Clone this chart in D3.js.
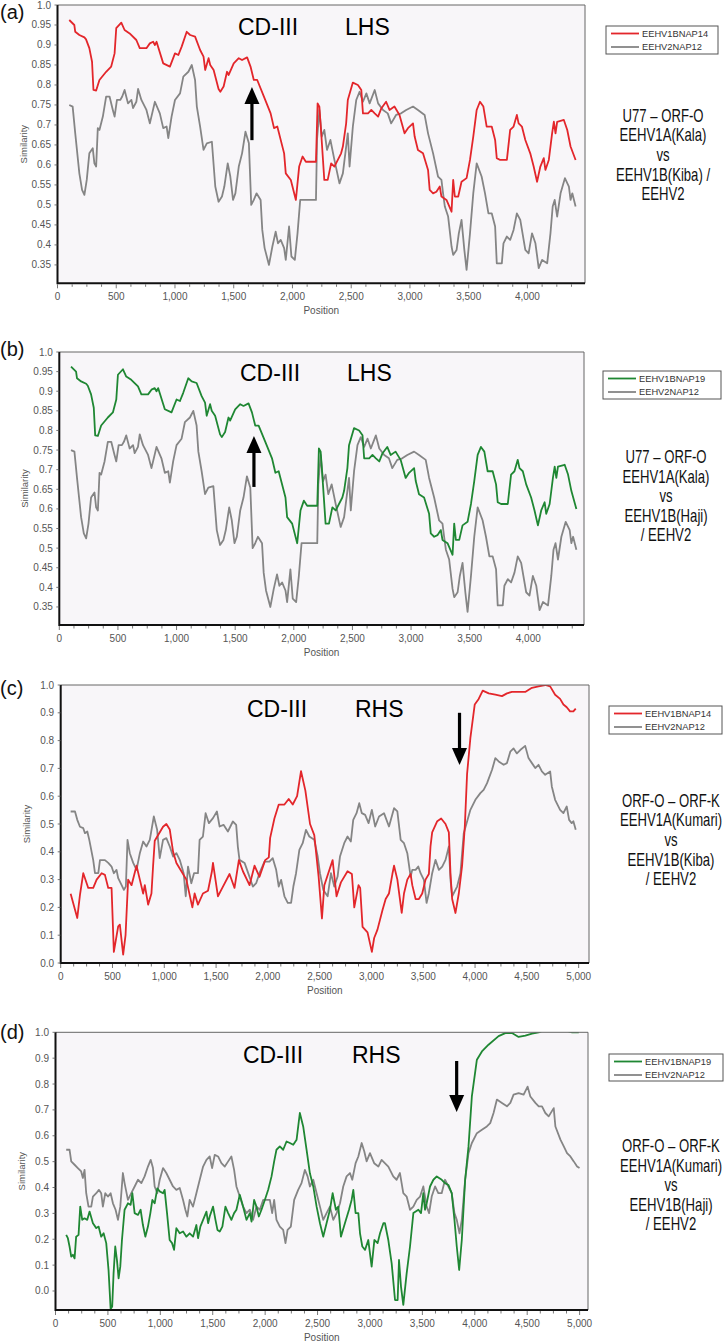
<!DOCTYPE html>
<html><head><meta charset="utf-8">
<script src="https://cdn.jsdelivr.net/npm/d3@7"></script>
<style>body{margin:0;background:#fff}svg{display:block;font-family:"Liberation Sans",Arial,Helvetica,sans-serif}</style>
</head><body><svg id="chart" width="725" height="1343"></svg>
<script>
// ---------------- DATA ----------------
const yTicksLHS = [1.0,0.95,0.9,0.85,0.8,0.75,0.7,0.65,0.6,0.55,0.5,0.45,0.4,0.35];
const yTicksRHS = [1.0,0.9,0.8,0.7,0.6,0.5,0.4,0.3,0.2,0.1,0.0];
const xTicksLHS = [0,500,1000,1500,2000,2500,3000,3500,4000];
const xTicksRHS = [0,500,1000,1500,2000,2500,3000,3500,4000,4500,5000];

const aRed = [[100,0.9625],[143,0.95],[151,0.933],[186,0.925],[229,0.919],[243,0.914],[271,0.892],[294,0.858],[306,0.7875],[329,0.786],[357,0.8125],[414,0.833],[457,0.846],[486,0.879],[500,0.942],[543,0.956],[571,0.9375],[614,0.929],[671,0.9125],[700,0.892],[757,0.892],[786,0.904],[814,0.908],[829,0.9],[843,0.908],[900,0.854],[957,0.846],[1000,0.879],[1029,0.875],[1057,0.896],[1100,0.933],[1129,0.925],[1171,0.921],[1214,0.8875],[1243,0.871],[1257,0.8375],[1286,0.867],[1300,0.85],[1329,0.8375],[1371,0.79],[1386,0.783],[1414,0.796],[1443,0.833],[1457,0.825],[1500,0.854],[1543,0.867],[1571,0.8625],[1614,0.869],[1643,0.846],[1671,0.8125],[1700,0.8125],[1757,0.771],[1814,0.729],[1843,0.692],[1871,0.696],[1929,0.629],[1943,0.579],[1986,0.5625],[2029,0.5125],[2057,0.596],[2086,0.621],[2114,0.608],[2200,0.608],[2214,0.754],[2229,0.746],[2243,0.6875],[2271,0.5625],[2300,0.5625],[2329,0.604],[2357,0.596],[2414,0.629],[2429,0.646],[2457,0.704],[2471,0.7625],[2514,0.806],[2557,0.8],[2586,0.7875],[2600,0.729],[2643,0.729],[2671,0.7375],[2700,0.729],[2729,0.721],[2757,0.742],[2797,0.758],[2826,0.7375],[2868,0.746],[2911,0.725],[2954,0.679],[2983,0.692],[3026,0.704],[3040,0.671],[3068,0.6375],[3111,0.629],[3154,0.5875],[3168,0.5375],[3197,0.529],[3225,0.533],[3254,0.546],[3268,0.521],[3311,0.5125],[3354,0.483],[3368,0.5625],[3382,0.521],[3411,0.521],[3439,0.558],[3482,0.567],[3511,0.6125],[3539,0.671],[3568,0.7375],[3596,0.758],[3625,0.746],[3653,0.696],[3696,0.696],[3725,0.6625],[3739,0.617],[3768,0.6125],[3825,0.6125],[3853,0.6875],[3882,0.696],[3910,0.725],[3925,0.704],[3953,0.696],[3982,0.6625],[4024,0.629],[4053,0.596],[4082,0.558],[4110,0.596],[4139,0.617],[4153,0.5875],[4182,0.6125],[4210,0.679],[4225,0.708],[4239,0.679],[4253,0.708],[4310,0.7125],[4339,0.6875],[4367,0.646],[4410,0.6125]];

const aGray = [[100,0.75],[129,0.746],[151,0.679],[186,0.579],[209,0.5375],[229,0.525],[249,0.5625],[271,0.629],[300,0.642],[314,0.604],[329,0.596],[343,0.692],[357,0.6875],[386,0.721],[414,0.771],[443,0.771],[471,0.7375],[486,0.721],[506,0.7625],[534,0.7625],[551,0.771],[571,0.7875],[600,0.754],[629,0.7625],[643,0.742],[671,0.758],[686,0.79],[714,0.7625],[757,0.7375],[786,0.704],[829,0.758],[871,0.729],[900,0.692],[929,0.696],[943,0.667],[971,0.721],[1000,0.7625],[1043,0.779],[1071,0.821],[1114,0.833],[1143,0.85],[1171,0.8125],[1186,0.746],[1214,0.696],[1243,0.6375],[1271,0.654],[1314,0.658],[1343,0.546],[1371,0.508],[1400,0.521],[1420,0.546],[1449,0.604],[1471,0.571],[1494,0.5125],[1514,0.529],[1543,0.596],[1571,0.629],[1600,0.683],[1629,0.654],[1649,0.5],[1671,0.5125],[1694,0.529],[1729,0.5125],[1743,0.4375],[1763,0.392],[1800,0.35],[1829,0.396],[1857,0.433],[1877,0.404],[1900,0.4125],[1929,0.392],[1943,0.3625],[1971,0.446],[1991,0.371],[2020,0.3625],[2043,0.429],[2066,0.5125],[2200,0.5125],[2209,0.6625],[2229,0.7375],[2249,0.671],[2271,0.6875],[2294,0.6375],[2323,0.6625],[2357,0.6125],[2400,0.554],[2429,0.579],[2471,0.679],[2486,0.596],[2514,0.696],[2543,0.7625],[2571,0.783],[2600,0.758],[2629,0.779],[2657,0.754],[2700,0.7875],[2729,0.754],[2771,0.7375],[2811,0.729],[2840,0.704],[2882,0.725],[2925,0.729],[2968,0.7375],[3026,0.746],[3068,0.7375],[3125,0.725],[3154,0.679],[3197,0.629],[3239,0.571],[3268,0.5625],[3282,0.529],[3297,0.496],[3325,0.471],[3354,0.396],[3368,0.375],[3397,0.3875],[3416,0.429],[3439,0.4625],[3463,0.3875],[3482,0.3375],[3511,0.429],[3539,0.529],[3568,0.604],[3610,0.571],[3639,0.529],[3668,0.479],[3696,0.479],[3725,0.446],[3739,0.354],[3782,0.354],[3796,0.404],[3825,0.421],[3853,0.4125],[3882,0.4375],[3910,0.479],[3939,0.4625],[3982,0.3875],[4010,0.379],[4039,0.429],[4068,0.404],[4096,0.342],[4125,0.3625],[4168,0.354],[4196,0.429],[4215,0.496],[4232,0.5125],[4253,0.471],[4282,0.529],[4319,0.567],[4353,0.546],[4367,0.5125],[4382,0.529],[4410,0.496]];

const bGreen = [[100,0.9625],[143,0.95],[151,0.933],[186,0.925],[229,0.919],[243,0.914],[271,0.892],[294,0.858],[306,0.7875],[329,0.786],[357,0.8125],[414,0.833],[457,0.846],[486,0.879],[500,0.942],[543,0.956],[571,0.9375],[614,0.929],[671,0.9125],[700,0.892],[757,0.892],[786,0.904],[814,0.908],[829,0.9],[843,0.908],[900,0.854],[957,0.846],[1000,0.879],[1029,0.875],[1057,0.896],[1100,0.933],[1129,0.925],[1171,0.921],[1214,0.8875],[1243,0.871],[1257,0.8375],[1286,0.867],[1300,0.85],[1329,0.8375],[1371,0.79],[1386,0.783],[1414,0.796],[1443,0.833],[1457,0.825],[1500,0.854],[1543,0.867],[1571,0.8625],[1614,0.869],[1643,0.846],[1671,0.8125],[1700,0.8125],[1757,0.771],[1814,0.729],[1843,0.692],[1871,0.696],[1929,0.629],[1943,0.579],[1986,0.5625],[2029,0.5125],[2057,0.596],[2086,0.621],[2114,0.608],[2200,0.608],[2214,0.754],[2229,0.746],[2243,0.6875],[2271,0.5625],[2300,0.5625],[2329,0.604],[2357,0.596],[2414,0.629],[2429,0.646],[2457,0.704],[2471,0.7625],[2514,0.806],[2557,0.8],[2586,0.7875],[2600,0.729],[2643,0.729],[2671,0.7375],[2700,0.729],[2729,0.721],[2757,0.742],[2797,0.758],[2826,0.7375],[2868,0.746],[2911,0.725],[2954,0.679],[2983,0.692],[3026,0.704],[3040,0.671],[3068,0.6375],[3111,0.629],[3154,0.5875],[3168,0.5375],[3197,0.529],[3225,0.533],[3254,0.546],[3268,0.521],[3311,0.5125],[3354,0.483],[3368,0.5625],[3382,0.521],[3411,0.521],[3439,0.558],[3482,0.567],[3511,0.6125],[3539,0.671],[3568,0.7375],[3596,0.758],[3625,0.746],[3653,0.696],[3696,0.696],[3725,0.6625],[3739,0.617],[3768,0.6125],[3825,0.6125],[3853,0.6875],[3882,0.696],[3910,0.725],[3925,0.704],[3953,0.696],[3982,0.6625],[4024,0.629],[4053,0.596],[4082,0.558],[4110,0.596],[4139,0.617],[4153,0.5875],[4182,0.6125],[4210,0.679],[4225,0.708],[4239,0.679],[4253,0.708],[4310,0.7125],[4339,0.6875],[4367,0.646],[4410,0.60]];
const bGray = aGray;

const cRed = [[96,0.249],[160,0.162],[186,0.245],[218,0.323],[266,0.27],[314,0.27],[347,0.3],[395,0.323],[427,0.317],[459,0.27],[491,0.27],[513,0.04],[555,0.132],[571,0.138],[603,0.03],[626,0.1],[651,0.3],[684,0.28],[732,0.35],[764,0.3],[796,0.25],[812,0.28],[844,0.21],[876,0.25],[892,0.35],[908,0.44],[988,0.49],[1020,0.5],[1053,0.48],[1085,0.4],[1117,0.36],[1165,0.33],[1213,0.3],[1271,0.2],[1293,0.25],[1325,0.21],[1373,0.25],[1422,0.26],[1460,0.33],[1470,0.36],[1518,0.24],[1560,0.27],[1630,0.32],[1678,0.27],[1720,0.37],[1759,0.33],[1823,0.28],[1871,0.35],[1919,0.31],[1974,0.37],[2009,0.38],[2022,0.45],[2063,0.52],[2105,0.57],[2160,0.57],[2201,0.59],[2240,0.57],[2282,0.6],[2320,0.69],[2362,0.62],[2407,0.5],[2448,0.46],[2490,0.31],[2522,0.16],[2545,0.28],[2625,0.37],[2663,0.24],[2705,0.29],[2769,0.33],[2811,0.32],[2834,0.2],[2875,0.28],[2891,0.27],[2914,0.13],[2962,0.11],[3004,0.04],[3026,0.09],[3058,0.12],[3106,0.19],[3137,0.23],[3169,0.25],[3202,0.32],[3218,0.35],[3250,0.3],[3292,0.18],[3314,0.25],[3346,0.3],[3378,0.32],[3394,0.28],[3426,0.23],[3458,0.23],[3490,0.25],[3522,0.3],[3554,0.32],[3570,0.42],[3586,0.47],[3635,0.51],[3673,0.52],[3715,0.5],[3747,0.47],[3763,0.32],[3779,0.23],[3811,0.18],[3843,0.25],[3875,0.35],[3901,0.49],[3923,0.68],[3955,0.81],[3997,0.93],[4035,0.95],[4074,0.98],[4132,0.97],[4196,0.965],[4260,0.96],[4308,0.97],[4356,0.975],[4420,0.975],[4484,0.975],[4549,0.99],[4613,0.995],[4677,1.0],[4725,0.995],[4773,0.965],[4821,0.95],[4853,0.93],[4885,0.92],[4917,0.905],[4949,0.905],[4972,0.915]];

const cGray = [[96,0.545],[138,0.545],[160,0.515],[186,0.49],[218,0.485],[234,0.467],[257,0.473],[276,0.443],[314,0.37],[331,0.323],[363,0.323],[379,0.37],[427,0.37],[459,0.36],[491,0.347],[513,0.323],[539,0.335],[555,0.305],[587,0.281],[610,0.263],[629,0.275],[645,0.443],[667,0.395],[700,0.36],[732,0.335],[764,0.395],[796,0.437],[828,0.419],[860,0.443],[899,0.527],[931,0.479],[956,0.377],[988,0.443],[1020,0.449],[1053,0.419],[1085,0.383],[1117,0.395],[1149,0.371],[1187,0.323],[1207,0.24],[1229,0.347],[1261,0.287],[1287,0.323],[1325,0.323],[1341,0.443],[1373,0.455],[1399,0.539],[1431,0.503],[1470,0.521],[1508,0.545],[1534,0.491],[1572,0.497],[1614,0.473],[1662,0.509],[1694,0.497],[1710,0.419],[1726,0.371],[1775,0.36],[1816,0.317],[1855,0.275],[1887,0.287],[1919,0.323],[1967,0.365],[2015,0.365],[2047,0.377],[2080,0.335],[2105,0.275],[2128,0.299],[2160,0.24],[2192,0.216],[2224,0.216],[2246,0.275],[2272,0.323],[2304,0.407],[2336,0.431],[2368,0.479],[2400,0.455],[2448,0.443],[2481,0.383],[2503,0.323],[2535,0.263],[2577,0.24],[2609,0.323],[2641,0.275],[2673,0.311],[2696,0.383],[2737,0.431],[2769,0.455],[2801,0.437],[2824,0.515],[2856,0.539],[2882,0.575],[2907,0.539],[2939,0.533],[2972,0.503],[3004,0.551],[3036,0.491],[3073,0.527],[3121,0.539],[3169,0.491],[3218,0.557],[3250,0.545],[3282,0.443],[3314,0.431],[3346,0.395],[3378,0.311],[3394,0.335],[3426,0.335],[3452,0.347],[3474,0.323],[3506,0.299],[3532,0.216],[3554,0.251],[3586,0.323],[3618,0.371],[3651,0.335],[3683,0.347],[3715,0.371],[3747,0.419],[3763,0.299],[3779,0.24],[3827,0.275],[3859,0.323],[3891,0.467],[3923,0.509],[3955,0.551],[4003,0.587],[4051,0.611],[4083,0.623],[4116,0.647],[4164,0.695],[4196,0.737],[4228,0.725],[4276,0.713],[4308,0.719],[4340,0.76],[4372,0.772],[4404,0.754],[4436,0.766],[4484,0.781],[4516,0.737],[4549,0.719],[4581,0.701],[4613,0.713],[4645,0.689],[4677,0.677],[4725,0.689],[4741,0.635],[4773,0.587],[4821,0.551],[4853,0.539],[4885,0.563],[4908,0.515],[4933,0.503],[4949,0.51],[4972,0.479]];

const dGreen = [[102,0.217],[118,0.204],[134,0.172],[150,0.133],[166,0.14],[182,0.126],[197,0.21],[220,0.217],[236,0.326],[255,0.275],[277,0.281],[303,0.275],[325,0.307],[357,0.262],[389,0.243],[411,0.249],[436,0.21],[459,0.223],[484,0.185],[506,0.081],[526,-0.07],[541,-0.06],[554,0.068],[570,0.172],[586,0.12],[602,0.049],[618,0.094],[634,0.197],[659,0.314],[691,0.339],[717,0.333],[733,0.378],[755,0.301],[787,0.294],[812,0.314],[834,0.255],[857,0.21],[882,0.249],[905,0.301],[924,0.352],[946,0.339],[971,0.397],[994,0.385],[1026,0.378],[1041,0.391],[1064,0.301],[1089,0.197],[1112,0.185],[1131,0.159],[1153,0.243],[1185,0.223],[1217,0.23],[1249,0.21],[1280,0.223],[1312,0.21],[1344,0.255],[1360,0.204],[1382,0.249],[1408,0.275],[1440,0.307],[1456,0.262],[1471,0.288],[1503,0.326],[1526,0.275],[1545,0.236],[1567,0.23],[1592,0.249],[1621,0.326],[1647,0.301],[1678,0.275],[1704,0.301],[1726,0.314],[1758,0.372],[1790,0.326],[1822,0.275],[1854,0.301],[1870,0.268],[1895,0.352],[1917,0.326],[1940,0.288],[1965,0.314],[1997,0.352],[2029,0.391],[2061,0.443],[2086,0.501],[2108,0.546],[2140,0.559],[2172,0.546],[2204,0.578],[2236,0.572],[2268,0.565],[2300,0.585],[2331,0.688],[2363,0.636],[2395,0.546],[2427,0.455],[2459,0.404],[2491,0.326],[2523,0.262],[2554,0.21],[2586,0.262],[2618,0.314],[2644,0.378],[2675,0.314],[2698,0.326],[2723,0.21],[2761,0.262],[2800,0.314],[2825,0.352],[2841,0.391],[2863,0.301],[2889,0.301],[2905,0.223],[2927,0.172],[2953,0.159],[2984,0.197],[3016,0.094],[3042,0.197],[3073,0.185],[3096,0.223],[3128,0.262],[3143,0.262],[3175,0.197],[3207,0.107],[3239,-0.035],[3264,-0.035],[3277,0.12],[3296,0.017],[3318,-0.054],[3350,0.068],[3382,0.172],[3414,0.301],[3462,0.314],[3487,0.301],[3509,0.378],[3525,0.314],[3541,0.339],[3573,0.404],[3605,0.43],[3637,0.443],[3685,0.43],[3716,0.417],[3748,0.41],[3780,0.378],[3806,0.275],[3828,0.172],[3851,0.081],[3876,0.197],[3908,0.43],[3940,0.559],[3972,0.752],[4020,0.894],[4068,0.926],[4131,0.952],[4227,0.985],[4291,0.997],[4355,0.997],[4418,0.982],[4482,0.987],[4546,0.995],[4610,1.0],[4700,1.015],[4800,1.015],[4928,1.0],[4992,1.0]];

const dGray = [[102,0.546],[134,0.546],[150,0.501],[182,0.488],[213,0.475],[245,0.462],[261,0.437],[277,0.468],[293,0.378],[315,0.326],[341,0.326],[357,0.365],[389,0.378],[414,0.391],[436,0.378],[452,0.326],[475,0.378],[500,0.365],[526,0.378],[548,0.339],[573,0.314],[596,0.275],[618,0.326],[643,0.456],[659,0.417],[691,0.352],[723,0.378],[755,0.404],[787,0.43],[819,0.417],[850,0.443],[882,0.481],[908,0.507],[930,0.475],[946,0.404],[971,0.378],[994,0.43],[1026,0.475],[1057,0.456],[1089,0.43],[1121,0.404],[1153,0.391],[1185,0.398],[1217,0.352],[1239,0.314],[1258,0.288],[1280,0.352],[1312,0.326],[1344,0.378],[1376,0.43],[1408,0.481],[1440,0.507],[1471,0.52],[1494,0.475],[1519,0.526],[1551,0.52],[1583,0.494],[1615,0.481],[1647,0.501],[1678,0.52],[1704,0.468],[1726,0.404],[1758,0.365],[1790,0.326],[1822,0.301],[1854,0.314],[1885,0.275],[1917,0.326],[1949,0.314],[1981,0.352],[2013,0.352],[2045,0.352],[2067,0.301],[2086,0.352],[2108,0.275],[2140,0.249],[2172,0.236],[2194,0.185],[2214,0.236],[2245,0.249],[2277,0.352],[2315,0.391],[2347,0.417],[2379,0.468],[2405,0.443],[2427,0.404],[2459,0.43],[2491,0.378],[2523,0.326],[2554,0.275],[2586,0.301],[2618,0.326],[2650,0.275],[2682,0.301],[2714,0.339],[2745,0.404],[2777,0.443],[2809,0.456],[2831,0.43],[2863,0.494],[2889,0.52],[2921,0.572],[2946,0.539],[2968,0.501],[3000,0.533],[3040,0.494],[3080,0.481],[3111,0.507],[3175,0.481],[3222,0.443],[3254,0.43],[3286,0.456],[3318,0.378],[3350,0.365],[3382,0.314],[3414,0.326],[3446,0.352],[3478,0.365],[3509,0.404],[3541,0.326],[3564,0.301],[3589,0.365],[3621,0.404],[3652,0.378],[3684,0.378],[3716,0.43],[3748,0.404],[3780,0.378],[3806,0.301],[3828,0.275],[3854,0.223],[3876,0.275],[3908,0.43],[3940,0.533],[3972,0.572],[4020,0.61],[4068,0.623],[4115,0.636],[4147,0.649],[4179,0.688],[4211,0.74],[4259,0.727],[4307,0.714],[4339,0.727],[4370,0.759],[4418,0.765],[4466,0.759],[4504,0.79],[4530,0.752],[4578,0.727],[4610,0.714],[4641,0.714],[4673,0.688],[4705,0.675],[4753,0.707],[4769,0.636],[4817,0.585],[4849,0.559],[4880,0.533],[4912,0.52],[4944,0.501],[4976,0.481],[4999,0.475]];

const panelLabels = ["(a)","(b)","(c)","(d)"];
const regionLabels = ["LHS","LHS","RHS","RHS"];
const legendNames = [["EEHV1BNAP14","EEHV2NAP12"],["EEHV1BNAP19","EEHV2NAP12"],["EEHV1BNAP14","EEHV2NAP12"],["EEHV1BNAP19","EEHV2NAP12"]];
const sideNotes = [
  ["U77 \u2013 ORF-O","EEHV1A(Kala)","vs","EEHV1B(Kiba) /","EEHV2"],
  ["U77 \u2013 ORF-O","EEHV1A(Kala)","vs","EEHV1B(Haji)","/ EEHV2"],
  ["ORF-O \u2013 ORF-K","EEHV1A(Kumari)","vs","EEHV1B(Kiba)","/ EEHV2"],
  ["ORF-O \u2013 ORF-K","EEHV1A(Kumari)","vs","EEHV1B(Haji)","/ EEHV2"]
];
// arrows: [position, from similarity, to similarity (tip)]
const arrows = [[1655,0.662,0.795],[1660,0.656,0.786],[3850,0.90,0.712],[3827,0.889,0.692]];

// ---------------- LAYOUT / STYLE ----------------
const RED = "#e3262b", GREEN = "#1f8733", GRAY = "#858585";
const panels = [
  {box:[57.5,5,585,283.3], xMax:4490, yDom:[0.304,1.0], yTicks:yTicksLHS, xTicks:xTicksLHS, fmtY:v=>v===1?"1.0":String(v),
   series:[aGray,aRed], colors:[GRAY,RED], legend:[606,26,112,28], note:[663,121.7], lab:19, cd:[238,35,345]},
  {box:[59.3,352,584,625], xMax:4475, yDom:[0.304,1.0], yTicks:yTicksLHS, xTicks:xTicksLHS, fmtY:v=>v===1?"1.0":String(v),
   series:[bGray,bGreen], colors:[GRAY,GREEN], legend:[603,371,118,28], note:[666,463], lab:356, cd:[240,381,347]},
  {box:[60.7,685,589,963], xMax:5100, yDom:[0,1.0], yTicks:yTicksRHS, xTicks:xTicksRHS, fmtY:d3.format(".1f"),
   series:[cGray,cRed], colors:[GRAY,RED], legend:[609,706,113,28], note:[671,806.7], lab:695, cd:[247,717,355]},
  {box:[55.5,1032.3,588,1310], xMax:5080, yDom:[-0.0735,1.0], yTicks:yTicksRHS, xTicks:xTicksRHS, fmtY:d3.format(".1f"),
   series:[dGray,dGreen], colors:[GRAY,GREEN], legend:[609,1054,114,27], note:[671,1152], lab:1039, cd:[243,1063,352]}
];

const svg = d3.select("#chart");
const fmtX = d3.format(",");

panels.forEach((p,i)=>{
  const [L,T,R,B] = p.box;
  const x = d3.scaleLinear().domain([0,p.xMax]).range([L,R]);
  const y = d3.scaleLinear().domain(p.yDom).range([B,T]);
  const g = svg.append("g");

  g.append("rect").attr("x",L).attr("y",T).attr("width",R-L).attr("height",B-T).attr("fill","#f8f6f9");
  const cid = "clip"+i;
  svg.append("clipPath").attr("id",cid).append("rect").attr("x",L).attr("y",T).attr("width",R-L).attr("height",B-T);

  // series
  const line = d3.line().x(d=>x(d[0])).y(d=>y(d[1]));
  p.series.forEach((s,k)=>{
    g.append("path").datum(s).attr("d",line).attr("fill","none")
     .attr("stroke",p.colors[k]).attr("stroke-width",1.8).attr("stroke-linejoin","round")
     .attr("clip-path",`url(#${cid})`);
  });

  // frame
  g.append("path").attr("d",`M${L},${T}H${R}V${B}`).attr("fill","none").attr("stroke","#666").attr("stroke-width",1);
  g.append("path").attr("d",`M${L},${T}V${B}H${R}`).attr("fill","none").attr("stroke","#111").attr("stroke-width",2);

  // x axis ticks
  const minor = d3.range(0,p.xMax+1,125);
  g.selectAll(null).data(minor).enter().append("line")
    .attr("x1",d=>x(d)).attr("x2",d=>x(d)).attr("y1",B+1).attr("y2",d=>B+(d%500===0?5:3.5))
    .attr("stroke","#555").attr("stroke-width",0.8);
  g.selectAll(null).data(p.xTicks).enter().append("text")
    .attr("x",d=>x(d)).attr("y",B+16.5).attr("text-anchor","middle")
    .attr("font-size",10).attr("fill","#555").text(fmtX);
  g.append("text").attr("x",(L+R)/2).attr("y",B+31).attr("text-anchor","middle")
    .attr("font-size",10).attr("fill","#555").text("Position");

  // y axis
  g.selectAll(null).data(p.yTicks).enter().append("line")
    .attr("x1",L-3).attr("x2",L).attr("y1",d=>y(d)).attr("y2",d=>y(d)).attr("stroke","#555").attr("stroke-width",0.8);
  g.selectAll(null).data(p.yTicks).enter().append("text")
    .attr("x",L-6.5).attr("y",d=>y(d)).attr("dy","0.35em").attr("text-anchor","end")
    .attr("font-size",10).attr("fill","#555").text(p.fmtY);
  g.append("text").attr("transform",`translate(${L-31},${(T+B)/2}) rotate(-90)`)
    .attr("text-anchor","middle").attr("font-size",9.5).attr("fill","#555").text("Similarity");

  // panel label
  g.append("text").attr("x",0).attr("y",p.lab).attr("font-size",20).attr("fill","#111").text(panelLabels[i]);

  // CD-III / LHS|RHS
  g.append("text").attr("x",p.cd[0]).attr("y",p.cd[1]).attr("font-size",23).attr("fill","#000").text("CD-III");
  g.append("text").attr("x",p.cd[2]).attr("y",p.cd[1]).attr("font-size",23).attr("fill","#000").text(regionLabels[i]);

  // arrow
  const [ap,a0,a1] = arrows[i];
  const ax = x(ap), y0 = y(a0), y1 = y(a1);
  const dir = y1 < y0 ? 1 : -1; // 1 = pointing up
  const headLen = 17, headW = 7.5;
  g.append("line").attr("x1",ax).attr("x2",ax).attr("y1",y0).attr("y2",y1+dir*headLen*0.8)
    .attr("stroke","#000").attr("stroke-width",3.2);
  g.append("path").attr("d",`M${ax},${y1}L${ax-headW},${y1+dir*headLen}L${ax+headW},${y1+dir*headLen}Z`).attr("fill","#000");

  // legend
  const [lx,ly,lw,lh] = p.legend;
  g.append("rect").attr("x",lx).attr("y",ly).attr("width",lw).attr("height",lh)
    .attr("fill","#fff").attr("stroke","#555").attr("stroke-width",1);
  const legCols = [p.colors[1],p.colors[0]];
  legendNames[i].forEach((nm,k)=>{
    const yy = ly + 7.5 + k*13.5;
    g.append("line").attr("x1",lx+5).attr("x2",lx+33).attr("y1",yy).attr("y2",yy)
      .attr("stroke",legCols[k]).attr("stroke-width",1.8);
    g.append("text").attr("x",lx+36).attr("y",yy).attr("dy","0.35em").attr("font-size",9.3).attr("fill","#333").text(nm);
  });

  // side note
  const [nx,ny] = p.note;
  sideNotes[i].forEach((t,k)=>{
    g.append("text").attr("transform",`translate(${nx},${ny+k*19.6}) scale(0.73,1)`)
      .attr("text-anchor","middle").attr("font-size",18).attr("fill","#111").text(t);
  });
});
</script></body></html>
